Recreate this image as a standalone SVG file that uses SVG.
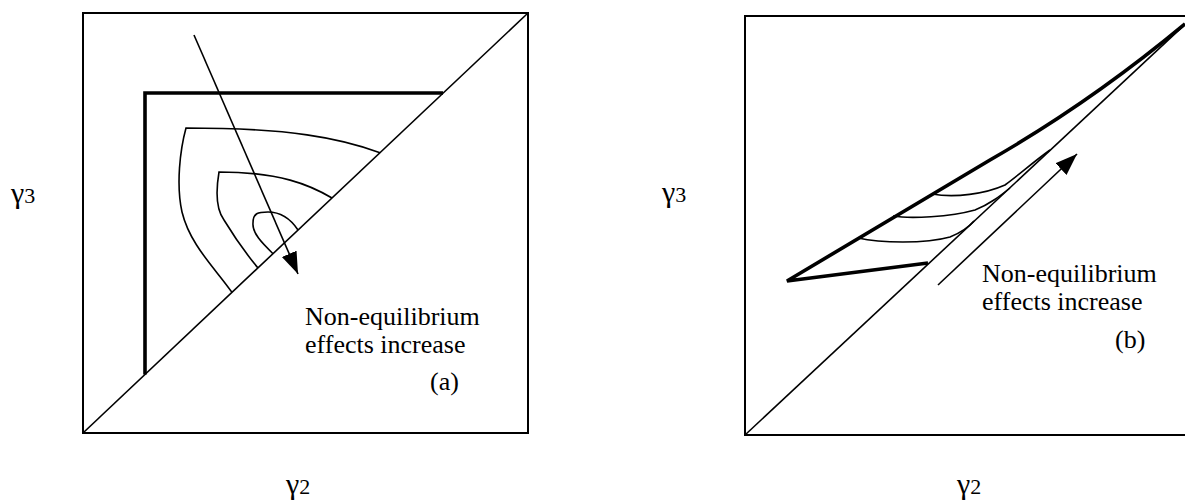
<svg xmlns="http://www.w3.org/2000/svg" width="1185" height="503" viewBox="0 0 1185 503">
<style>
.box{fill:none;stroke:#000;stroke-width:2}
.thin{fill:none;stroke:#000;stroke-width:1.6}
.bold{fill:none;stroke:#000;stroke-width:3.6}
</style>
<defs>
<marker id="ah" markerUnits="userSpaceOnUse" markerWidth="24" markerHeight="18" refX="22" refY="8" orient="auto">
<path d="M0,0 L22,8 L0,16 z" fill="#000"/>
</marker>
</defs>
<rect width="1185" height="503" fill="#fff"/>
<g id="panel-a">
<rect class="box" x="83" y="13" width="445" height="420"/>
<line class="thin" x1="83" y1="433" x2="528" y2="13"/>
<path class="bold" d="M145,374.5 L145,93 L443,93"/>
<path class="thin" d="M380,152.7 C340,138 290,128 186,128 C180,150 176,185 182,212 C190,245 215,268 232,292.4"/>
<path class="thin" d="M332,198 C310,185 280,172 219,172 C216,190 215,208 224,220 C235,238 248,256 258,268"/>
<path class="thin" d="M273,253.7 C262,243 252,233 253,223 C253,213 258,212 268,212 C282,212 292,221 298,230"/>
<g font-family="'Liberation Serif','Times New Roman',Times,serif" font-size="26" fill="#000">
<text x="305" y="325">Non-equilibrium</text>
<text x="305" y="353">effects increase</text>
<text x="430" y="390">(a)</text>
</g>
</g>
<g id="panel-b">
<rect class="box" x="745" y="16" width="460" height="419"/>
<line class="thin" x1="745" y1="435" x2="1194" y2="16"/>
<path class="bold" d="M928,263 L787,281 L990,160 C1060,120 1120,78 1185,24"/>
<path class="thin" d="M858,238 C880,243 925,244 950,237 C960,233 968,228 974,221"/>
<path class="thin" d="M893,216 C910,219 950,217 975,210 C990,204 1000,196 1010,188"/>
<path class="thin" d="M932,194 C955,198 985,194 1005,185 C1020,174 1032,163 1050,150"/>
<g font-family="'Liberation Serif','Times New Roman',Times,serif" font-size="26" fill="#000">
<text x="982" y="282">Non-equilibrium</text>
<text x="982" y="310">effects increase</text>
<text x="1115" y="348">(b)</text>
</g>
</g>
<g id="connectors">
<line class="thin" x1="194" y1="35" x2="298" y2="274" marker-end="url(#ah)"/>
<line class="thin" x1="938" y1="285" x2="1077" y2="154" marker-end="url(#ah)"/>
</g>
<g id="axis-labels" font-family="'Liberation Serif','Times New Roman',Times,serif" fill="#000">
<text x="11" y="203"><tspan font-size="30">γ</tspan><tspan font-size="22">3</tspan></text>
<text x="662" y="202"><tspan font-size="30">γ</tspan><tspan font-size="22">3</tspan></text>
<text x="286" y="494"><tspan font-size="30">γ</tspan><tspan font-size="22">2</tspan></text>
<text x="957" y="494"><tspan font-size="30">γ</tspan><tspan font-size="22">2</tspan></text>
</g>
</svg>
